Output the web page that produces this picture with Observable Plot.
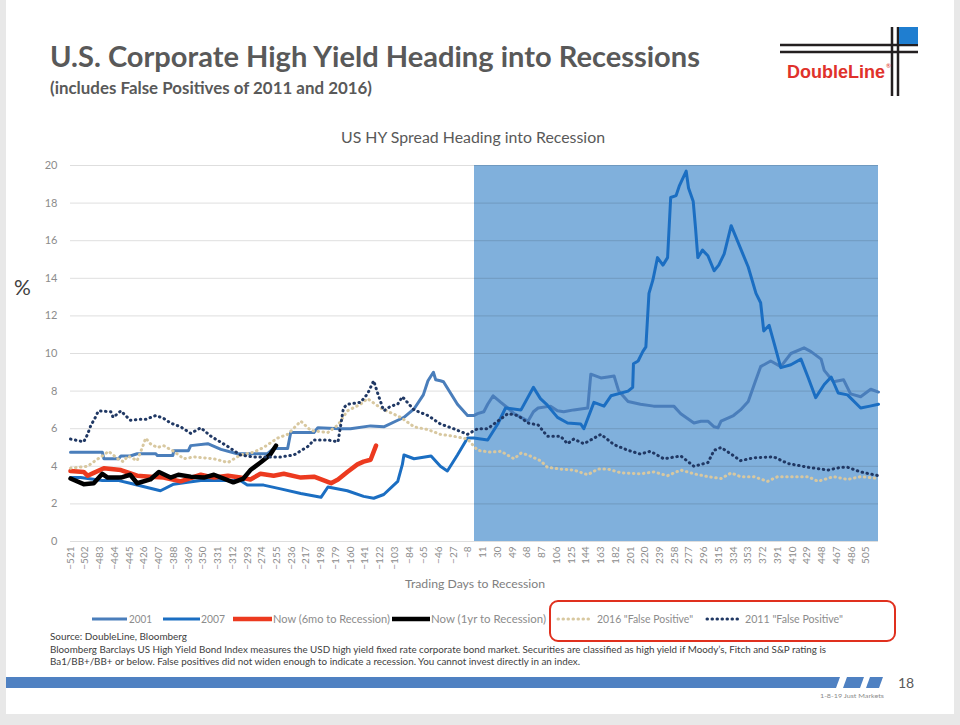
<!DOCTYPE html>
<html><head><meta charset="utf-8">
<script src="https://cdn.jsdelivr.net/npm/d3@7"></script>
<script src="https://cdn.jsdelivr.net/npm/@observablehq/plot@0.6"></script>
<style>
html,body{margin:0;padding:0;background:#e8e8e8;width:960px;height:725px;overflow:hidden}
#slide{position:absolute;left:6px;top:0;width:948px;height:714px;background:#fff;z-index:0}
#chart{position:absolute;left:0;top:150px;z-index:1}
#overlay{position:absolute;left:0;top:0;z-index:2}
svg text{font-family:Lato,"Open Sans",sans-serif}
</style></head>
<body>
<div id="slide"></div>
<div id="chart"></div>
<svg id="overlay" width="960" height="725"></svg>
<script>
// ---------- DATA ----------
const xTickLabels = [-521,-502,-483,-464,-445,-426,-407,-388,-369,-350,-331,-312,-293,-274,-255,-236,-217,-198,-179,-160,-141,-122,-103,-84,-65,-46,-27,-8,11,30,49,68,87,106,125,144,163,182,201,220,239,258,277,296,315,334,353,372,391,410,429,448,467,486,505];
const yTickLabels = [0,2,4,6,8,10,12,14,16,18,20];
const recessionStart = 0, recessionEnd = 521, dayMin = -521;

const days2001 = [-521,-480,-478,-459,-456,-444,-435,-411,-409,-389,-388,-369,-366,-344,-327,-306,-267,-259,-241,-237,-207,-202,-173,-160,-134,-117,-99,-91,-78,-66,-60,-53,-50,-44,-40,-31,-22,-9,-1,4,12,17,24,34,43,51,60,69,76,82,98,107,115,128,146,150,163,172,180,186,198,214,231,257,266,283,292,301,309,314,318,334,343,353,362,369,382,395,408,425,434,447,451,463,476,485,498,511,521];
const spread2001 = [4.75,4.75,4.4,4.4,4.55,4.55,4.67,4.67,4.57,4.57,4.83,4.83,5.1,5.2,4.9,4.67,4.67,4.95,4.95,5.8,5.8,6.05,6.0,6.0,6.15,6.1,6.45,6.6,7.05,7.8,8.55,9.0,8.6,8.55,8.5,7.9,7.3,6.7,6.7,6.8,6.9,7.3,7.75,7.4,7.1,6.8,6.6,6.4,6.9,7.1,7.2,6.95,6.9,7.0,7.1,8.9,8.7,8.75,8.8,8.0,7.45,7.3,7.2,7.2,6.8,6.3,6.4,6.4,6.1,6.05,6.4,6.7,7.0,7.45,8.5,9.3,9.6,9.3,10.0,10.3,10.1,9.7,9.1,8.5,8.6,7.85,7.7,8.1,7.95];

const days2007 = [-521,-508,-480,-460,-444,-422,-405,-388,-370,-353,-302,-293,-272,-250,-224,-198,-189,-164,-143,-130,-117,-99,-93,-91,-78,-56,-44,-35,-22,-9,-1,17,30,40,60,76,85,94,107,120,137,141,154,167,176,198,204,205,211,217,221,225,230,236,243,249,253,260,264,273,276,282,285,288,294,301,309,315,322,331,337,346,353,363,369,373,380,386,395,408,421,430,440,451,460,469,481,498,510,521];
const spread2007 = [3.4,3.4,3.24,3.25,3.1,2.87,2.7,3.05,3.15,3.24,3.24,3.0,3.0,2.8,2.55,2.35,2.9,2.7,2.4,2.3,2.5,3.2,4.1,4.6,4.4,4.55,4.0,3.75,4.6,5.5,5.5,5.4,6.25,7.1,7.0,8.2,7.6,7.25,6.6,6.3,6.25,6.0,7.4,7.2,7.75,8.0,8.2,9.45,9.6,10.1,10.35,13.2,13.9,15.1,14.7,15.1,18.3,18.4,18.9,19.7,18.8,18.1,16.7,15.1,15.5,15.2,14.4,14.7,15.3,16.8,16.2,15.3,14.6,13.2,12.7,11.2,11.5,10.6,9.25,9.4,9.7,8.75,7.65,8.35,8.75,7.9,7.8,7.1,7.2,7.3];

const daysNow6mo = [-521,-504,-499,-491,-478,-456,-435,-418,-401,-379,-353,-336,-318,-302,-289,-276,-259,-246,-224,-207,-185,-176,-164,-151,-143,-134,-127];
const spreadNow6mo = [3.75,3.7,3.5,3.65,3.9,3.8,3.5,3.45,3.4,3.2,3.55,3.4,3.5,3.4,3.3,3.6,3.5,3.6,3.4,3.45,3.1,3.3,3.7,4.1,4.25,4.35,5.1];

const daysNow1yr = [-521,-504,-491,-480,-473,-456,-444,-435,-418,-407,-392,-382,-366,-349,-336,-311,-298,-289,-276,-267,-263,-256];
const spreadNow1yr = [3.35,3.05,3.1,3.6,3.4,3.4,3.55,3.1,3.3,3.7,3.4,3.55,3.45,3.4,3.55,3.15,3.35,3.8,4.2,4.5,4.65,5.1];

const days2016 = [-521,-499,-489,-478,-472,-460,-453,-447,-435,-427,-424,-418,-409,-401,-388,-375,-362,-336,-318,-302,-285,-272,-254,-241,-224,-211,-189,-176,-164,-147,-138,-121,-108,-95,-78,-60,-44,-27,-9,4,21,34,51,60,69,85,94,111,128,146,159,172,189,214,231,249,266,283,301,318,331,343,360,378,391,408,430,443,463,481,498,521];
const spread2016 = [3.9,4.0,4.3,4.6,4.8,4.4,4.25,4.55,4.3,5.15,5.5,5.2,5.0,5.1,4.8,4.4,4.5,4.4,4.2,4.6,4.75,5.0,5.5,5.7,6.4,5.9,5.8,6.2,6.95,7.3,7.6,7.1,6.85,6.6,6.1,5.95,5.7,5.6,5.45,4.85,4.75,4.8,4.4,4.7,4.6,4.3,3.95,3.85,3.8,3.55,3.85,3.85,3.65,3.6,3.7,3.5,3.8,3.6,3.45,3.35,3.65,3.45,3.45,3.2,3.45,3.45,3.45,3.2,3.45,3.3,3.45,3.35];

const days2011 = [-521,-504,-499,-495,-489,-485,-469,-466,-456,-444,-431,-424,-411,-401,-392,-379,-366,-353,-340,-318,-302,-285,-250,-233,-215,-207,-189,-176,-169,-164,-147,-138,-130,-125,-117,-108,-99,-93,-78,-60,-44,-27,-9,4,17,30,43,56,69,82,94,111,120,128,141,163,180,198,214,227,244,266,283,301,309,318,331,343,360,386,404,430,456,473,481,498,521];
const spread2011 = [5.45,5.3,5.7,6.15,6.6,6.95,6.9,6.6,6.95,6.45,6.5,6.5,6.7,6.55,6.3,6.1,5.75,6.05,5.6,5.05,4.6,4.5,4.5,4.6,5.05,5.4,5.4,5.3,7.1,7.3,7.4,7.85,8.55,7.9,6.95,7.2,7.3,7.7,7.0,6.7,6.25,6.0,5.7,6.0,6.0,6.4,6.8,6.7,6.3,6.2,5.6,5.6,5.2,5.45,5.2,5.7,5.15,4.85,4.65,4.8,4.4,4.55,4.0,4.2,4.85,5.0,4.65,4.3,4.45,4.5,4.15,3.95,3.8,3.95,3.95,3.7,3.5];

const seriesNames = ["2001","2007","Now (6mo to Recession)","Now (1yr to Recession)","2016 \"False Positive\"","2011 \"False Positive\""];
const seriesDays = [days2001, days2007, daysNow6mo, daysNow1yr, days2016, days2011];
const seriesVals = [spread2001, spread2007, spreadNow6mo, spreadNow1yr, spread2016, spread2011];

// ---------- STYLES ----------
const seriesStyle = [
  {stroke:"#4a7ebb", strokeWidth:3},
  {stroke:"#1b6ec2", strokeWidth:3},
  {stroke:"#ec3a1f", strokeWidth:4.5},
  {stroke:"#000000", strokeWidth:4.5},
  {stroke:"#d8c8a0", strokeWidth:3, strokeDasharray:"0.5 4.5", strokeLinecap:"round"},
  {stroke:"#203864", strokeWidth:3, strokeDasharray:"0.5 4.5", strokeLinecap:"round"}
];

const seriesRows = seriesNames.map((name, i) => seriesDays[i].map((d, j) => ({series: name, day: d, v: seriesVals[i][j]})));

const chart = Plot.plot({
  width: 960, height: 440,
  marginLeft: 70, marginRight: 82, marginTop: 15, marginBottom: 49,
  x: {domain: [dayMin, recessionEnd]},
  y: {domain: [0, 20]},
  style: {fontFamily: "Lato, 'Open Sans', sans-serif", fontSize: "10px", color: "#8c8c8c", background: "transparent", overflow: "visible"},
  marks: [
    Plot.rect([{start: recessionStart, end: recessionEnd}], {x1: "start", x2: "end", y1: 0, y2: 20, fill: "#80b0dc"}),
    Plot.gridY(yTickLabels, {stroke: "#000", strokeOpacity: 0.13, strokeWidth: 1}),
    Plot.axisY(yTickLabels, {tickSize: 0, tickPadding: 13, fontSize: 11, label: null}),
    Plot.axisX(xTickLabels, {tickSize: 0, tickRotate: -90, tickPadding: 5, fontSize: 10, label: null}),
    ...seriesRows.map((rows, i) => Plot.line(rows, {x: "day", y: "v", strokeLinejoin: "round", ...seriesStyle[i]}))
  ]
});
document.getElementById("chart").appendChild(chart);

// ---------- OVERLAY (titles, legend, notes) ----------
const legendItems = [
  {x1: 92, x2: 127, tx: 129, tw: 23},
  {x1: 163, x2: 200, tx: 201, tw: 24},
  {x1: 233, x2: 272, tx: 273, tw: 117},
  {x1: 392, x2: 430, tx: 431, tw: 115},
  {x1: 558, x2: 590, tx: 597, tw: 96},
  {x1: 707, x2: 740, tx: 745, tw: 98}
];
let leg = "";
legendItems.forEach((it, i) => {
  const s = seriesStyle[i];
  leg += `<line x1="${it.x1}" x2="${it.x2}" y1="619" y2="619" stroke="${s.stroke}" stroke-width="${s.strokeWidth}" ${s.strokeDasharray ? `stroke-dasharray="${s.strokeDasharray}" stroke-linecap="round"` : ""}/>`;
  leg += `<text x="${it.tx}" y="623" font-size="11" fill="#8c8c8c" textLength="${it.tw}" lengthAdjust="spacingAndGlyphs"></text>`;
});

const ov = document.getElementById("overlay");
ov.innerHTML = `
<text x="50" y="67" font-size="28" font-weight="700" fill="#595959" textLength="650" lengthAdjust="spacingAndGlyphs">U.S. Corporate High Yield Heading into Recessions</text>
<text x="50" y="94" font-size="17" font-weight="700" fill="#595959" textLength="322" lengthAdjust="spacingAndGlyphs">(includes False Positives of 2011 and 2016)</text>
<g stroke="#231f20" stroke-width="2.5">
  <line x1="780" x2="918" y1="45" y2="45"/><line x1="780" x2="918" y1="52" y2="52"/>
  <line x1="892" x2="892" y1="27" y2="96"/><line x1="898" x2="898" y1="27" y2="96"/>
</g>
<rect x="899" y="27" width="19" height="17" fill="#1f7ed0"/>
<text x="787" y="78" font-size="18" font-weight="700" fill="#e0322b" style="font-family:'Liberation Sans',Arial,sans-serif" textLength="98" lengthAdjust="spacingAndGlyphs">DoubleLine</text>
<text x="886" y="68" font-size="6" fill="#e0322b">®</text>
<text x="473" y="143" font-size="15.5" fill="#595959" text-anchor="middle" textLength="264" lengthAdjust="spacingAndGlyphs">US HY Spread Heading into Recession</text>
<text x="14" y="295" font-size="21" fill="#404040">%</text>
<text x="475" y="588" font-size="12" fill="#808080" text-anchor="middle" textLength="140" lengthAdjust="spacingAndGlyphs">Trading Days to Recession</text>
<rect x="550" y="601" width="345" height="40" rx="8" fill="none" stroke="#e0301e" stroke-width="2"/>
${leg}
<text x="50" y="640" font-size="10" fill="#404040" textLength="137" lengthAdjust="spacingAndGlyphs">Source: DoubleLine, Bloomberg</text>
<text x="50" y="653" font-size="10" fill="#404040" textLength="776" lengthAdjust="spacingAndGlyphs">Bloomberg Barclays US High Yield Bond Index measures the USD high yield fixed rate corporate bond market. Securities are classified as high yield if Moody’s, Fitch and S&amp;P rating is</text>
<text x="50" y="665" font-size="10" fill="#404040" textLength="530" lengthAdjust="spacingAndGlyphs">Ba1/BB+/BB+ or below. False positives did not widen enough to indicate a recession. You cannot invest directly in an  index.</text>
<polygon points="6,677 840,677 836,688 6,688" fill="#4f81c2"/>
<polygon points="847,677 864,677 860,688 843,688" fill="#4f81c2"/>
<polygon points="870,677 883,677 879,688 866,688" fill="#4f81c2"/>
<text x="898" y="688" font-size="14" fill="#595959">18</text>
<text x="820" y="698" font-size="6.5" fill="#8c8c8c" textLength="64" lengthAdjust="spacingAndGlyphs">1-8-19 Just Markets</text>
`;
// fill legend labels as text nodes
const legTexts = ov.querySelectorAll("text[y='623']");
legTexts.forEach((t, i) => { t.textContent = seriesNames[i]; });
</script>
</body></html>
